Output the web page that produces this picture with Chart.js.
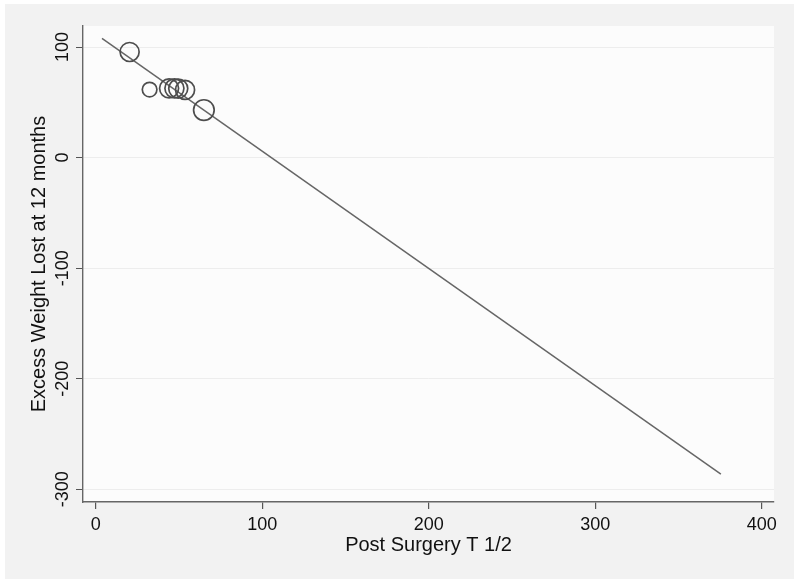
<!DOCTYPE html>
<html>
<head>
<meta charset="utf-8">
<script src="https://cdn.jsdelivr.net/npm/chart.js@4/dist/chart.umd.min.js"></script>
<style>
  html, body { margin: 0; padding: 0; background: #ffffff; }
  #wrap { width: 800px; height: 585px; }
</style>
</head>
<body>
<div id="wrap"><canvas id="c" width="800" height="585"></canvas></div>
<script>
// ---- data ----
const tHalf = [20.4, 32.4, 44.1, 47.3, 49.6, 53.7, 65.0];
const ewl = [95.5, 61.5, 62.6, 62.6, 62.4, 61.2, 43.0];
const markerRadius = [9.5, 7.3, 9.5, 9.5, 9.5, 9.5, 10.3];
const fitX = [3.8, 375.5];
const fitY = [107.9, -286.2];
const xTicks = [0, 100, 200, 300, 400];
const yTicks = [100, 0, -100, -200, -300];
const xTitle = 'Post Surgery T 1/2';
const yTitle = 'Excess Weight Lost at 12 months';

const FONT = "'Liberation Sans', Arial, sans-serif";

const bgPlugin = {
  id: 'bg',
  beforeDraw(chart) {
    const ctx = chart.ctx, a = chart.chartArea;
    ctx.save();
    ctx.fillStyle = '#ffffff';
    ctx.fillRect(0, 0, chart.width, chart.height);
    ctx.fillStyle = '#f2f2f2';
    ctx.fillRect(5, 4, 789, 575);
    ctx.fillStyle = '#fcfcfc';
    ctx.fillRect(a.left, a.top, a.right - a.left, a.bottom - a.top);
    ctx.restore();
  },
  afterDraw(chart) {
    const ctx = chart.ctx, ys = chart.scales.y, a = chart.chartArea;
    ctx.save();
    ctx.fillStyle = '#111111';
    ctx.textAlign = 'center';
    ctx.textBaseline = 'alphabetic';
    ctx.font = '18px ' + FONT;
    yTicks.forEach(v => {
      const py = ys.getPixelForValue(v);
      ctx.save();
      ctx.translate(68, py);
      ctx.rotate(-Math.PI / 2);
      ctx.fillText(String(v), 0, 0);
      ctx.restore();
    });
    ctx.font = '20px ' + FONT;
    ctx.save();
    ctx.translate(45, (a.top + a.bottom) / 2);
    ctx.rotate(-Math.PI / 2);
    ctx.fillText(yTitle, 0, 0);
    ctx.restore();
    ctx.restore();
  }
};

new Chart(document.getElementById('c'), {
  type: 'scatter',
  data: {
    datasets: [
      {
        type: 'bubble',
        data: tHalf.map((x, i) => ({ x: x, y: ewl[i], r: markerRadius[i] })),
        backgroundColor: 'rgba(0,0,0,0)',
        borderColor: '#4d4d4d',
        borderWidth: 1.7
      },
      {
        type: 'line',
        data: fitX.map((x, i) => ({ x: x, y: fitY[i] })),
        borderColor: '#666666',
        borderWidth: 1.5,
        pointRadius: 0,
        fill: false,
        tension: 0
      }
    ]
  },
  options: {
    responsive: false,
    animation: false,
    events: [],
    layout: { padding: { left: 0, top: 26, right: 26, bottom: 0 } },
    plugins: { legend: { display: false }, tooltip: { enabled: false } },
    scales: {
      x: {
        type: 'linear',
        min: -7.6,
        max: 407.4,
        afterBuildTicks(scale) { scale.ticks = xTicks.map(v => ({ value: v })); },
        afterFit(scale) { scale.height = 83; },
        grid: { drawOnChartArea: false, drawTicks: true, tickLength: 7, color: '#555555', tickColor: '#555555', lineWidth: 1.2 },
        border: { display: true, color: '#666666', width: 1.4 },
        ticks: { color: '#111111', font: { family: FONT, size: 18 }, padding: 5, maxRotation: 0, autoSkip: false },
        title: { display: true, text: xTitle, color: '#111111', font: { family: FONT, size: 20 }, padding: { top: 0, bottom: 28 } }
      },
      y: {
        type: 'linear',
        min: -311.5,
        max: 119,
        afterBuildTicks(scale) { scale.ticks = yTicks.map(v => ({ value: v })); },
        afterFit(scale) { scale.width = 83; },
        grid: {
          drawOnChartArea: true, drawTicks: true, tickLength: 7,
          color: '#ededed', tickColor: '#555555', lineWidth: 1
        },
        border: { display: true, color: '#666666', width: 1.4 },
        ticks: { display: true, color: 'rgba(0,0,0,0)', font: { family: FONT, size: 18 } },
        title: { display: false }
      }
    }
  },
  plugins: [bgPlugin]
});
</script>
</body>
</html>
